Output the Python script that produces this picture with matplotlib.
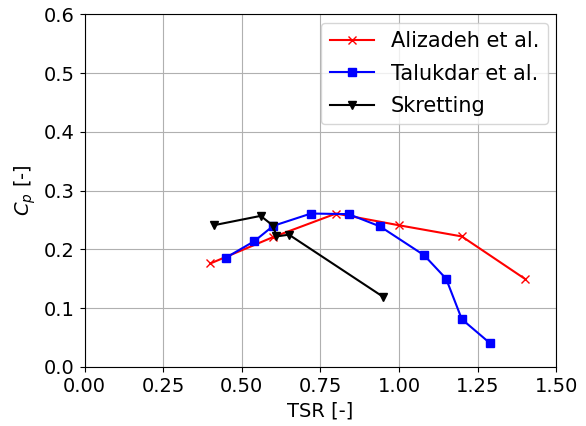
import numpy as np
import matplotlib
matplotlib.use('Agg')
import matplotlib.pyplot as plt

# Datos
tsr_alizadeh = [0.40, 0.60, 0.80, 1.00, 1.20, 1.40]
cp_alizadeh = [0.176, 0.221, 0.261, 0.241, 0.222, 0.150]

tsr_talukdar = [0.45, 0.54, 0.60, 0.72, 0.84, 0.94, 1.08, 1.15, 1.20, 1.29]
cp_talukdar = [0.186, 0.214, 0.240, 0.261, 0.260, 0.239, 0.190, 0.150, 0.081, 0.040]

tsr_skretting = [0.41, 0.56, 0.60, 0.61, 0.65, 0.95]
cp_skretting = [0.241, 0.257, 0.240, 0.222, 0.225, 0.119]

plt.rcParams['font.size'] = 14

fig = plt.figure(figsize=(5.86, 4.26), dpi=100)
ax = fig.add_axes([0.1445, 0.139, 0.8045, 0.827])
ax.plot(tsr_alizadeh, cp_alizadeh, 'r-x', label='Alizadeh et al.')
ax.plot(tsr_talukdar, cp_talukdar, 'b-s', label='Talukdar et al.')
ax.plot(tsr_skretting, cp_skretting, 'k-v', label='Skretting')
ax.set_xlim(0, 1.5)
ax.set_ylim(0, 0.6)
ax.set_xticks(np.arange(0, 1.51, 0.25))
ax.set_xlabel('TSR [-]')
ax.set_ylabel('$C_p$ [-]')
ax.grid(True)
ax.legend(loc='upper right', fontsize=15, labelspacing=0.6, handlelength=2.15,
          borderaxespad=0.4)
fig.savefig('out.png', dpi=100)
plt.close()
